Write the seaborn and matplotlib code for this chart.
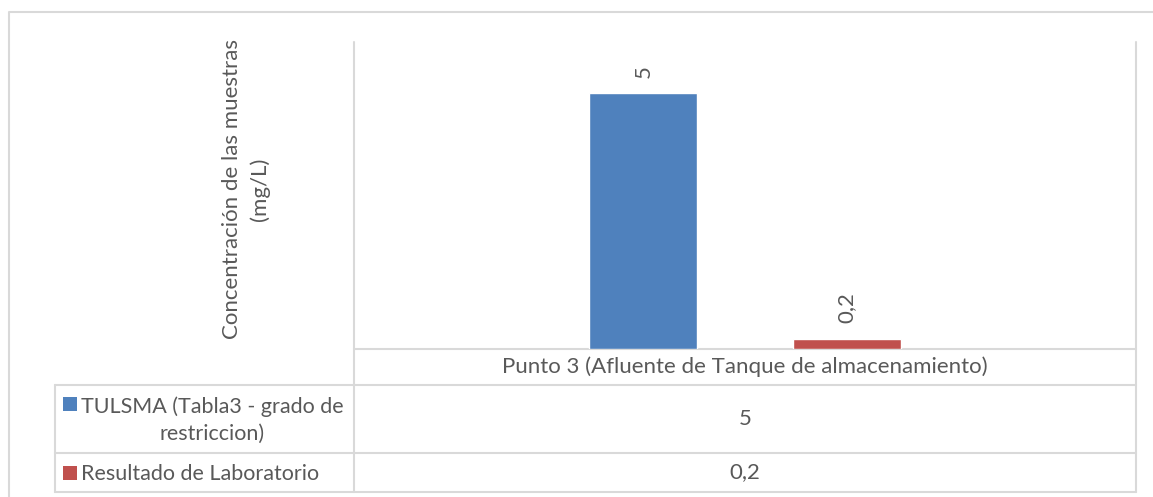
import matplotlib
matplotlib.use("Agg")
import matplotlib.pyplot as plt
from matplotlib.patches import Rectangle
import pandas as pd
import seaborn as sns

# Data
category = "Punto 3 (Afluente de Tanque de almacenamiento)"
series = ["TULSMA (Tabla3 - grado de\nrestriccion)", "Resultado de Laboratorio"]
values = [5, 0.2]
colors = ["#4f81bd", "#c0504d"]
ylabel = "Concentración de las muestras\n(mg/L)"

def fmt(v):
    return f"{v:g}".replace(".", ",")

df = pd.DataFrame({"cat": [category] * len(series), "serie": series, "valor": values})

sns.set_theme(style="white")
plt.rcParams["font.family"] = ["Lato", "DejaVu Sans"]
txt = "#595959"
grid = "#d9d9d9"
fs = 16

W, H = 1153, 497
fig = plt.figure(figsize=(W / 100, H / 100), dpi=100)

# pixel-space overlay for frame and data table
tab = fig.add_axes([0, 0, 1, 1])
tab.set_xlim(0, W)
tab.set_ylim(H, 0)
tab.axis("off")

x0, x1 = 354, 1136
top, base = 42, 349
rows = [349, 385, 453, 492]
left = 55

# outer chart border
tab.plot([9, 9, W + 5], [H + 5, 12, 12], color=grid, lw=1.5)

# table grid
tab.plot([x0, x0], [top, rows[-1]], color=grid, lw=1.5)
tab.plot([x1, x1], [top, rows[-1]], color=grid, lw=1.5)
tab.plot([x0, x1], [rows[0], rows[0]], color=grid, lw=1.5)
for y in rows[1:]:
    tab.plot([left, x1], [y, y], color=grid, lw=1.5)
tab.plot([left, left], [rows[1], rows[-1]], color=grid, lw=1.5)

xc = (x0 + x1) / 2
tab.text(xc, (rows[0] + rows[1]) / 2, category, ha="center", va="center",
         fontsize=fs, color=txt)
for i, (s, v, c) in enumerate(zip(series, values, colors)):
    yc = (rows[i + 1] + rows[i + 2]) / 2
    nlines = s.count("\n") + 1
    sq_y = yc - (nlines - 1) * 15.5
    tab.add_patch(Rectangle((63, sq_y - 7), 14, 14, color=c, lw=0))
    tab.text(81, yc + 1, s, ha="left", va="center", fontsize=15.5, color=txt,
             multialignment="center", linespacing=1.45)
    tab.text(xc, yc, fmt(v), ha="center", va="center", fontsize=fs, color=txt)

tab.text(246, 189, ylabel, rotation=90, ha="center", va="center",
         fontsize=fs, color=txt, multialignment="center", linespacing=1.4)

# bar chart area
ax = fig.add_axes([x0 / W, 1 - base / H, (x1 - x0) / W, (base - top) / H])
ax.patch.set_alpha(0)
sns.barplot(data=df, x="cat", y="valor", hue="serie", palette=colors,
            width=0.52, gap=0.47, ax=ax, legend=False, saturation=1)
ax.set_xlim(-0.5, 0.5)
ax.set_ylim(0, 6)
ax.set_xticks([])
ax.set_yticks([])
ax.set_xlabel("")
ax.set_ylabel("")
for sp in ax.spines.values():
    sp.set_visible(False)

for cont, v in zip(ax.containers, values):
    ax.bar_label(cont, labels=[fmt(v)], rotation=90, padding=11,
                 fontsize=fs, color=txt)

fig.savefig("out.png", dpi=100)
